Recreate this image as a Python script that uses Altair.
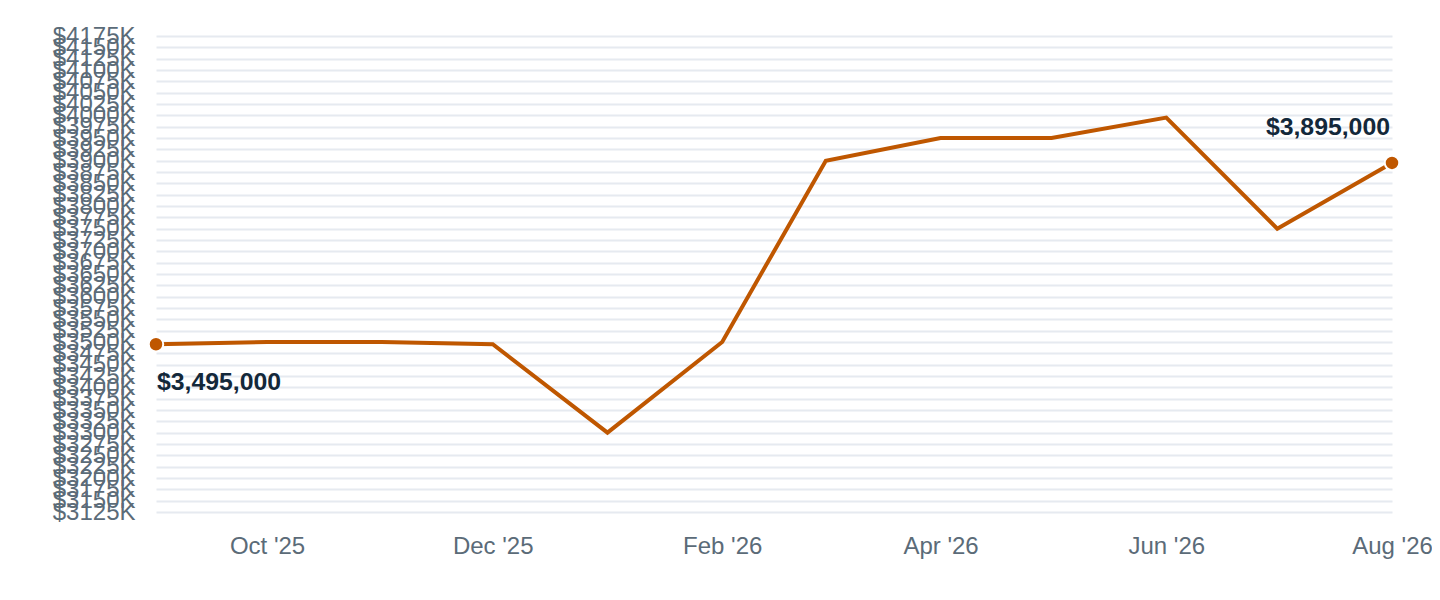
import altair as alt
import pandas as pd

months = ["2025-09-01", "2025-10-01", "2025-11-01", "2025-12-01", "2026-01-01", "2026-02-01",
          "2026-03-01", "2026-04-01", "2026-05-01", "2026-06-01", "2026-07-01", "2026-08-01"]
values = [3495000, 3500000, 3500000, 3495000, 3300000, 3500000,
          3900000, 3950000, 3950000, 3995000, 3750000, 3895000]

y_ticks = list(range(3125000, 4175001, 25000))
x_ticks = ["2025-10-01", "2025-12-01", "2026-02-01", "2026-04-01", "2026-06-01", "2026-08-01"]

df = pd.DataFrame({"date": months, "value": values})
df["label"] = ["$" + format(v, ",") for v in values]

first = df.iloc[[0]]
last = df.iloc[[-1]]

x_tick_ms = [int(pd.Timestamp(d, tz="UTC").timestamp() * 1000) for d in x_ticks]
x_domain = [int(pd.Timestamp(months[0], tz="UTC").timestamp() * 1000),
            int(pd.Timestamp(months[-1], tz="UTC").timestamp() * 1000)]

FONT = "Liberation Sans"
ORANGE = "#bf5700"

x_enc = alt.X(
    "date:T",
    scale=alt.Scale(type="utc", domain=x_domain, nice=False),
    axis=alt.Axis(
        values=x_tick_ms, labelExpr="utcFormat(datum.value, \"%b '%y\")", title=None,
        grid=False, domain=False, ticks=False, tickSize=0, labelPadding=22,
        labelFontSize=24, labelColor="#5b6b78", labelFont=FONT,
        labelOverlap=False, labelFlush=False, tickCount=20,
    ),
)
y_enc = alt.Y(
    "value:Q",
    scale=alt.Scale(domain=[3125000, 4175000], nice=False, zero=False),
    axis=alt.Axis(
        values=y_ticks, labelExpr="'$' + (datum.value / 1000) + 'K'", title=None,
        grid=True, gridColor="#e6eaf0", gridWidth=2, domain=False, ticks=False,
        tickSize=0, labelPadding=21, labelFontSize=24, labelColor="#5b6b78",
        labelFont=FONT, labelOverlap=False, labelBaseline="middle", tickCount=100,
    ),
)

base = alt.Chart(df)

line = base.mark_line(color=ORANGE, strokeWidth=4).encode(x=x_enc, y=y_enc)

dots = alt.Chart(pd.concat([first, last])).mark_point(
    filled=True, fill=ORANGE, size=210, stroke="white", strokeWidth=2, opacity=1
).encode(x="date:T", y="value:Q")

t1 = alt.Chart(first).mark_text(
    align="left", baseline="middle", dx=1, dy=39, fontSize=24.8, fontWeight="bold",
    color="#13283a", font=FONT
).encode(x="date:T", y="value:Q", text="label:N")

t2 = alt.Chart(last).mark_text(
    align="right", baseline="middle", dx=-2, dy=-35, fontSize=24.8, fontWeight="bold",
    color="#13283a", font=FONT
).encode(x="date:T", y="value:Q", text="label:N")

chart = alt.layer(line, dots, t1, t2).properties(
    width=1236, height=476,
    autosize=alt.AutoSizeParams(type="none"),
    padding={"left": 148, "top": 28, "right": 40, "bottom": 50},
).configure_view(stroke=None)

chart.save("out.html", embed_options={"renderer": "svg", "actions": False})
